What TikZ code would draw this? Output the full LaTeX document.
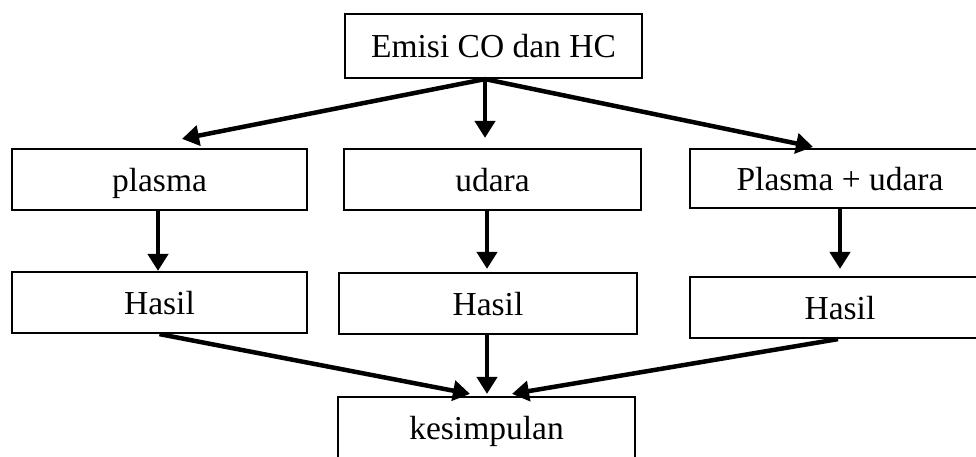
\documentclass[tikz,border=0pt]{standalone}
\usepackage{fontspec}
\setmainfont{Liberation Serif}
\usetikzlibrary{arrows.meta}
\tikzset{
  box/.style={draw, line width=2.2pt, rectangle, inner sep=0pt, anchor=center,
              text height=30pt, text depth=7pt,
              font=\fontsize{33.5}{40}\selectfont},
  arr/.style={line width=4.5pt, -{Triangle[width=20pt,length=17pt]}},
}
\begin{document}
\begin{tikzpicture}[x=1pt,y=-1pt]
\useasboundingbox (0,0) rectangle (976,456);
\fill[white] (0,0) rectangle (976,456);
\clip (0,0) rectangle (976,456);
\node[box, minimum width=297pt, minimum height=64pt] (top) at (493.5,46) {Emisi CO dan HC};
\node[box, minimum width=295pt, minimum height=61pt] (plasma) at (159.5,179.5) {plasma};
\node[box, minimum width=297pt, minimum height=61pt] (udara) at (492.5,179.5) {udara};
\node[box, minimum width=300pt, minimum height=59pt] (pu) at (840,178.5) {Plasma + udara};
\node[box, minimum width=295pt, minimum height=61pt] (hasilL) at (159.5,302.5) {Hasil};
\node[box, minimum width=298pt, minimum height=61pt] (hasilM) at (488,303.5) {Hasil};
\node[box, minimum width=300pt, minimum height=61pt] (hasilR) at (840,307.5) {Hasil};
\node[box, minimum width=297pt, minimum height=61pt] (kes) at (486.5,427.5) {kesimpulan};

\draw[arr] ([xshift=-8.5pt]top.south) -- ([xshift=22.5pt,yshift=9pt]plasma.north);
\draw[arr] ([xshift=-8.5pt]top.south) -- ([xshift=-7.5pt,yshift=10pt]udara.north);
\draw[arr] ([xshift=-8.5pt]top.south) -- ([xshift=-27pt,yshift=1pt]pu.north);

\draw[arr] ([xshift=-1.5pt]plasma.south) -- ([xshift=-1.5pt,yshift=0pt]hasilL.north);
\draw[arr] ([xshift=-5.5pt]udara.south) -- ([xshift=-1pt,yshift=3pt]hasilM.north);
\draw[arr] (pu.south) -- ([yshift=7pt]hasilR.north);

\draw[arr] (hasilL.south) -- ([xshift=-16.5pt,yshift=2pt]kes.north);
\draw[arr] ([xshift=-1pt]hasilM.south) -- ([xshift=0.5pt,yshift=2pt]kes.north);
\draw[arr] ([xshift=-2pt]hasilR.south) -- ([xshift=25.5pt,yshift=2pt]kes.north);
\end{tikzpicture}
\end{document}
